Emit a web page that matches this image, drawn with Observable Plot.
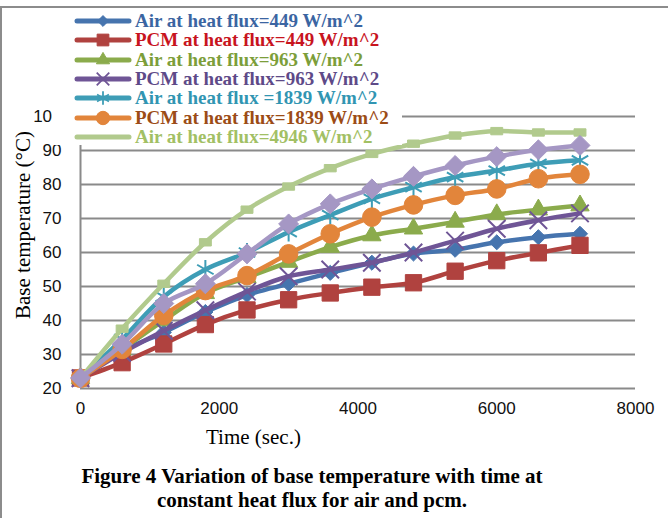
<!DOCTYPE html>
<html>
<head>
<meta charset="utf-8">
<script src="https://cdn.jsdelivr.net/npm/d3@7"></script>
<script src="https://cdn.jsdelivr.net/npm/@observablehq/plot@0.6"></script>
<style>
  html, body { margin: 0; padding: 0; background: #fff; }
  #wrap { position: relative; width: 668px; height: 518px; overflow: hidden; background: #fff; }
  #frame { position: absolute; left: 0; top: 6px; width: 680px; height: 600px; border-top: 2px solid #8c8c8c; border-left: 2px solid #8c8c8c; box-sizing: border-box; }
  #chart { position: absolute; left: 0; top: 0; }
  #legend { position: absolute; left: 52px; top: 9px; width: 350px; height: 136px; background: #fff; z-index: 2; }
  .row { position: absolute; left: 0; height: 19px; display: flex; align-items: center; white-space: nowrap; }
  .row svg { display: block; margin-left: 22px; margin-right: 3px; }
  .row span { font: bold 19px "Liberation Serif", "Times New Roman", serif; }
  .ttl { position: absolute; font: 21px "Liberation Serif", "Times New Roman", serif; color: #000; white-space: nowrap; line-height: 24px; }
  .cap { position: absolute; left: 0; width: 624px; text-align: center; font: bold 21px "Liberation Serif", "Times New Roman", serif; color: #000; white-space: nowrap; line-height: 24px; }
</style>
</head>
<body>
<div id="wrap">
  <div id="frame"></div>
  <div id="chart"></div>
  <div id="legend"></div>
  <div class="ttl" id="xtitle" style="left:206px; top:425px;">Time (sec.)</div>
  <div class="ttl" id="ytitle" style="left:23px; top:225px; transform: translate(-50%,-50%) rotate(-90deg);">Base temperature (°C)</div>
  <div class="cap" style="top:464px;">Figure 4 Variation of base temperature with time at</div>
  <div class="cap" style="top:488px;">constant heat flux for air and pcm.</div>
</div>
<script>
// ---- data ----
const times = [0, 600, 1200, 1800, 2400, 3000, 3600, 4200, 4800, 5400, 6000, 6600, 7200];
const air449  = [23, 31, 36.5, 42.5, 47.5, 50.8, 54, 57, 59.7, 60.8, 63, 64.5, 65.5];
const pcm449  = [23.1, 27.6, 33.1, 38.8, 43.1, 46.1, 48.1, 49.8, 51.1, 54.5, 57.6, 59.9, 62.1];
const air963  = [23, 31.5, 40, 48, 52.7, 57.2, 61.6, 65, 67, 69, 71.2, 72.6, 73.8];
const pcm963  = [23, 30.5, 37, 43, 48.5, 53, 55, 57, 60, 63.5, 67, 69.5, 71.5];
const air1839 = [23, 34.5, 47, 55, 60, 66, 71, 75.8, 79.2, 82.2, 84.1, 86.1, 87.1];
const pcm1839 = [23, 31.5, 41.5, 48.8, 53.2, 59.6, 65.5, 70.4, 74, 76.8, 78.7, 81.7, 83];
const air4946 = [23, 37.6, 50.8, 63, 72.6, 79.4, 84.8, 89, 92, 94.4, 95.7, 95.3, 95.3];
const pcm4946 = [23.1, 33, 45, 50.8, 59.6, 68.4, 74.3, 78.7, 82.4, 85.6, 88.2, 90.2, 91.5];

const seriesNames = [
  "Air at heat flux=449 W/m^2",
  "PCM at heat flux=449 W/m^2",
  "Air at heat flux=963 W/m^2",
  "PCM at heat flux=963 W/m^2",
  "Air at heat flux =1839 W/m^2",
  "PCM at heat flux=1839 W/m^2",
  "Air at heat flux=4946 W/m^2",
  "PCM at heat flux=4946 W/m^2"
];
const seriesValues = [air449, pcm449, air963, pcm963, air1839, pcm1839, air4946, pcm4946];
const inLegend = [true, true, true, true, true, true, true, false];

const xTicks = [0, 2000, 4000, 6000, 8000];
const yTicks = [20, 30, 40, 50, 60, 70, 80, 90, 100];

// ---- styles ----
const dashSymbol = {
  draw(ctx, size) {
    const w = Math.sqrt(size) * 0.42, h = Math.sqrt(size) * 0.26;
    ctx.moveTo(-w, -h); ctx.lineTo(w, -h); ctx.lineTo(w, h); ctx.lineTo(-w, h); ctx.closePath();
  }
};
const styles = [
  {line: "#4674AE", text: "#3B65A2", symbol: "diamond2", r: 6.8, fill: true},
  {line: "#B0423F", text: "#C8141E", symbol: "square",   r: 9.2, fill: true},
  {line: "#8BAB4C", text: "#7C9E3A", symbol: "triangle", r: 6.8, fill: true},
  {line: "#6F5596", text: "#5E4A88", symbol: "times",    r: 8,   fill: false},
  {line: "#3E9DB6", text: "#3195B2", symbol: "asterisk", r: 9,   fill: false},
  {line: "#E2853B", text: "#9C4C16", symbol: "circle",   r: 9.3, fill: true},
  {line: "#B1CA8D", text: "#A2C064", symbol: dashSymbol, r: 8,   fill: true},
  {line: "#A597C4", text: "#8B7DB0", symbol: "diamond2", r: 9,   fill: true}
];

const rows = [];
seriesNames.forEach((name, i) => {
  seriesValues[i].forEach((v, j) => rows.push({series: name, idx: i, t: times[j], v}));
});

const marks = [
  Plot.gridY(yTicks, {stroke: "#8a8a8a", strokeOpacity: 1, strokeWidth: 2}),
  Plot.ruleX([0], {y1: 20, y2: 100, stroke: "#8a8a8a", strokeWidth: 2}),
  Plot.axisY(yTicks, {tickSize: 0, tickPadding: 19, fontSize: 17, label: null, fill: "#111", tickFormat: d => String(d)}),
  Plot.axisX(xTicks, {tickSize: 0, tickPadding: 13, fontSize: 17, label: null, fill: "#111", tickFormat: d => String(d)})
];
seriesNames.forEach((name, i) => {
  const d = rows.filter(r => r.idx === i);
  const s = styles[i];
  marks.push(Plot.line(d, {x: "t", y: "v", stroke: s.line, strokeWidth: 4.5, curve: "catmull-rom", strokeLinejoin: "round"}));
  marks.push(Plot.dot(d, {
    x: "t", y: "v", symbol: () => s.symbol, r: s.r,
    fill: s.fill ? s.line : "none", stroke: s.line, strokeWidth: s.fill ? 1 : 2
  }));
});

const chart = Plot.plot({
  width: 668,
  height: 460,
  marginLeft: 80,
  marginRight: 33,
  marginTop: 116,
  marginBottom: 72,
  x: {domain: [0, 8000], axis: null},
  y: {domain: [20, 100], axis: null},
  symbol: {type: "identity"},
  style: {fontFamily: "'Liberation Sans', Arial, sans-serif", background: "transparent", overflow: "visible"},
  marks
});
document.getElementById("chart").appendChild(chart);

// ---- legend (HTML, covering top of plot as in the original) ----
const legend = d3.select("#legend");
const symMap = {diamond2: d3.symbolDiamond2, square: d3.symbolSquare, triangle: d3.symbolTriangle,
  times: d3.symbolTimes, asterisk: d3.symbolAsterisk, circle: d3.symbolCircle};
let k = 0;
seriesNames.forEach((name, i) => {
  if (!inLegend[i]) return;
  const s = styles[i];
  const row = legend.append("div").attr("class", "row").style("top", (2.5 + k * 19.3) + "px");
  const svg = row.append("svg").attr("width", 58).attr("height", 16);
  svg.append("line").attr("x1", 3).attr("x2", 55).attr("y1", 8).attr("y2", 8)
    .attr("stroke", s.line).attr("stroke-width", 5).attr("stroke-linecap", "round");
  const type = typeof s.symbol === "string" ? symMap[s.symbol] : null;
  if (type) {
    const rr = s.r * 0.72;
    svg.append("path").attr("transform", "translate(29,8)")
      .attr("d", d3.symbol(type, Math.PI * rr * rr)())
      .attr("fill", s.fill ? s.line : "none").attr("stroke", s.line).attr("stroke-width", s.fill ? 1 : 1.8);
  }
  row.append("span").style("color", s.text).text(name);
  k++;
});
</script>
</body>
</html>
